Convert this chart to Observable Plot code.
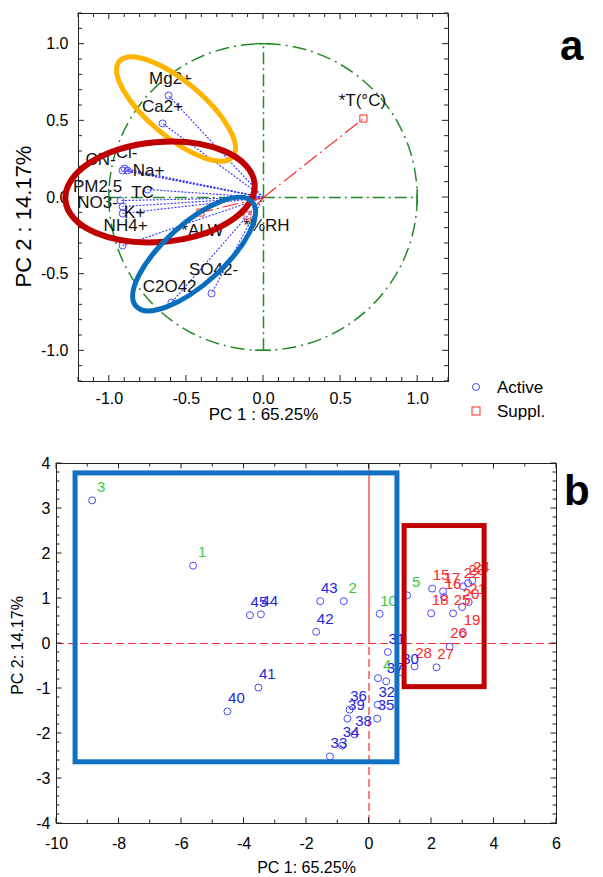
<!DOCTYPE html>
<html><head><meta charset="utf-8">
<script src="https://cdn.jsdelivr.net/npm/d3@7"></script>
<script src="https://cdn.jsdelivr.net/npm/@observablehq/plot@0.6"></script>
<style>
body{margin:0;background:#fff;}
#wrap{position:relative;width:603px;height:877px;font-family:"Liberation Sans",Arial,sans-serif;}
#wrap svg.plot{display:block;}
#overlay{position:absolute;left:0;top:0;pointer-events:none;}
</style></head><body><div id="wrap"></div>
<script>
// ---------- Panel a : variable loadings ----------
const loadName = ["Mg2+","Ca2+","Cl-","CN-","Na+","TC","PM2.5","NO3-","K+","NH4+","SO42-","C2O42-"];
const loadPC1  = [-0.616,-0.655,-0.901,-0.914,-0.882,-0.752,-0.927,-0.914,-0.914,-0.914,-0.337,-0.597];
const loadPC2  = [ 0.665, 0.483, 0.189, 0.176, 0.176, 0.052,-0.020,-0.059,-0.104,-0.313,-0.626,-0.685];
const suppName = ["*T(°C)","*ALW","*%RH"];
const suppPC1  = [0.648,-0.409,-0.104];
const suppPC2  = [0.515,-0.098,-0.117];
const ticksA   = [-1.0,-0.5,0.0,0.5,1.0];
const axisA    = {x:"PC 1 : 65.25%", y:"PC 2 : 14.17%"};
// grouping ellipses (centre, semi-axes in PC units, tilt in degrees)
const ellipseName = ["crustal","secondary","oxalate"];
const ellipseCX = [-0.564,-0.668,-0.447];
const ellipseCY = [ 0.574, 0.033,-0.372];
const ellipseA  = [ 0.480, 0.616, 0.506];
const ellipseB  = [ 0.180, 0.326, 0.195];
const ellipseAngle = [40,-5,-42];

// ---------- Panel b : sample scores ----------
const sampleId  = ["1","2","3","4","5","10","15","16","17","18","19","20","21","22","23","24","25","26","27","28",
                   "30","31","32","33","34","35","36","37","38","39","40","41","42","43","44","45"];
const samplePC1 = [-5.63,-0.81,-8.86,0.29,1.22,0.34,2.02,2.40,2.37,1.99,3.01,2.98,3.19,3.01,3.17,3.31,2.69,2.58,2.16,1.46,
                   1.04,0.60,0.28,-1.25,-0.86,0.26,-0.62,0.55,-0.46,-0.69,-4.53,-3.54,-1.69,-1.56,-3.46,-3.81];
const samplePC2 = [1.73,0.94,3.18,-0.77,1.07,0.66,1.22,1.03,1.16,0.67,0.23,0.81,0.92,1.27,1.34,1.40,0.67,-0.07,-0.53,-0.51,
                   -0.64,-0.19,-1.36,-2.51,-2.27,-1.67,-1.47,-0.84,-2.02,-1.67,-1.51,-0.98,0.26,0.94,0.65,0.63];
const sampleGroup = ["g1","g1","g1","g1","g1","g1","g2","g2","g2","g2","g2","g2","g2","g2","g2","g2","g2","g2","g2","g2",
                   "g3","g3","g3","g3","g3","g3","g3","g3","g3","g3","g3","g3","g3","g3","g3","g3"];
const ticksBX = [-10,-8,-6,-4,-2,0,2,4,6];
const ticksBY = [-4,-3,-2,-1,0,1,2,3,4];
const axisB   = {x:"PC 1: 65.25%", y:"PC 2: 14.17%"};
const boxName = ["blue","red"];
const boxX1 = [-9.39, 1.14];
const boxX2 = [ 0.91, 3.70];
const boxY1 = [ 3.78, 2.61];
const boxY2 = [-2.64,-0.97];

// ---------- styles ----------
const FONT = "Liberation Sans, Arial, sans-serif";
const GREEN = "#23892a", BLUE_LINE = "#3535ff", BLUE_PT = "#4a4aff", RED = "#ff2a2a";
const ellipseColor = {crustal:"#FFB400", secondary:"#C00000", oxalate:"#0A6EBD"};
const boxColor = {blue:"#1170C4", red:"#C00000"};
const labelNudge = {"Mg2+":[2,-17],"Ca2+":[0,-17],"Cl-":[2,-16],"CN-":[-22,-11],"Na+":[21,0],"TC":[-5,3],
  "PM2.5":[-23,-14],"NO3-":[-25,-4],"K+":[12,-1],"NH4+":[3,-20],"SO42-":[2,-24],"C2O42-":[1,-16],
  "*T(°C)":[-1,-18],"*ALW":[2,18],"*%RH":[19,10]};

const loadings = loadName.map((n,i)=>({name:n,x:loadPC1[i],y:loadPC2[i]}));
const supp = suppName.map((n,i)=>({name:n,x:suppPC1[i],y:suppPC2[i]}));
const samples = sampleId.map((n,i)=>({id:n,x:samplePC1[i],y:samplePC2[i],g:sampleGroup[i]}));
const boxes = boxName.map((n,i)=>({name:n,x1:boxX1[i],x2:boxX2[i],y1:boxY1[i],y2:boxY2[i]}));
const fmt1 = d => d.toFixed(1);

function inwardTicks(svg, xs, ys, isMajorX, isMajorY, minLen, majLen){
  const sx = svg.scale("x"), sy = svg.scale("y");
  const [xl,xr] = sx.range, [yb,yt] = sy.range;
  const g = d3.select(svg).append("g").attr("stroke","#222").attr("stroke-width",1);
  xs.forEach(v=>{
    const p = sx.apply(v), L = isMajorX(v)?majLen:minLen;
    g.append("line").attr("x1",p).attr("x2",p).attr("y1",yb).attr("y2",yb-L);
    g.append("line").attr("x1",p).attr("x2",p).attr("y1",yt).attr("y2",yt+L);
  });
  ys.forEach(v=>{
    const p = sy.apply(v), L = isMajorY(v)?majLen:minLen;
    g.append("line").attr("y1",p).attr("y2",p).attr("x1",xl).attr("x2",xl+L);
    g.append("line").attr("y1",p).attr("y2",p).attr("x1",xr).attr("x2",xr-L);
  });
}
const near = (v,step)=>Math.abs(v/step-Math.round(v/step))<1e-6;

// ---------- build panel a ----------
const A = Plot.plot({
  width:603, height:430, marginLeft:78, marginRight:155, marginTop:13, marginBottom:49,
  x:{domain:[-1.2,1.2]}, y:{domain:[-1.2,1.2]},
  style:{fontFamily:FONT, fontSize:"16px", color:"#000", background:"transparent", overflow:"visible"},
  marks:[
    Plot.ruleY([0],{x1:()=>-1,x2:()=>1,stroke:GREEN,strokeWidth:1.5,strokeDasharray:"12,4,2,4"}),
    Plot.ruleX([0],{y1:()=>-1,y2:()=>1,stroke:GREEN,strokeWidth:1.5,strokeDasharray:"12,4,2,4"}),
    Plot.link(loadings,{x1:()=>0,y1:()=>0,x2:"x",y2:"y",stroke:BLUE_LINE,strokeWidth:1.1,strokeDasharray:"2,1.5"}),
    Plot.link(supp,{x1:()=>0,y1:()=>0,x2:"x",y2:"y",stroke:RED,strokeWidth:1.2,strokeDasharray:"16,4,2,4"}),
    Plot.dot(loadings,{x:"x",y:"y",r:3.5,stroke:BLUE_PT,fill:"none",strokeWidth:1}),
    Plot.dot(supp,{x:"x",y:"y",symbol:"square",r:4,stroke:RED,fill:"none",strokeWidth:1}),
    ...loadings.concat(supp).map(d=>Plot.text([d],{x:"x",y:"y",text:"name",dx:labelNudge[d.name][0],dy:labelNudge[d.name][1],
        fontSize:17,fill:"#111",textAnchor:"middle"})),
    Plot.frame({stroke:"#222"}),
    Plot.axisX({ticks:ticksA,tickFormat:fmt1,tickSize:0,tickPadding:11,label:null,fontSize:16}),
    Plot.axisY({ticks:ticksA,tickFormat:fmt1,tickSize:0,tickPadding:10,label:null,fontSize:16}),
    Plot.text([axisA.x],{x:()=>0,frameAnchor:"bottom",lineAnchor:"middle",textAnchor:"middle",dy:33,fontSize:17,text:d=>d}),
    Plot.text([axisA.y],{frameAnchor:"left",lineAnchor:"middle",textAnchor:"middle",dx:-55,dy:19,rotate:-90,fontSize:22,text:d=>d})
  ]
});
A.classList.add("plot");
{
  const sx=A.scale("x"), sy=A.scale("y");
  const ux = sx.apply(1)-sx.apply(0), uy = sy.apply(0)-sy.apply(1);
  const cx=sx.apply(0), cy=sy.apply(0);
  const svg=d3.select(A);
  const under = svg.insert("g","g");
  under.append("ellipse").attr("cx",cx).attr("cy",cy).attr("rx",ux).attr("ry",uy)
    .attr("fill","none").attr("stroke",GREEN).attr("stroke-width",1.5).attr("stroke-dasharray","14,5,2,5");
  const caps = svg.append("g").attr("stroke",GREEN).attr("stroke-width",1.5);
  [-1,1].forEach(v=>{
    caps.append("line").attr("x1",sx.apply(v)).attr("x2",sx.apply(v)).attr("y1",cy-8).attr("y2",cy+8);
    caps.append("line").attr("y1",sy.apply(v)).attr("y2",sy.apply(v)).attr("x1",cx-8).attr("x2",cx+8);
  });
  inwardTicks(A, d3.range(-12,13).map(i=>i/10), d3.range(-12,13).map(i=>i/10), v=>near(v,0.5), v=>near(v,0.5), 4, 6);
  const eg = svg.append("g").attr("fill","none");
  ellipseName.forEach((n,i)=>{
    eg.append("ellipse").attr("cx",sx.apply(ellipseCX[i])).attr("cy",sy.apply(ellipseCY[i]))
      .attr("rx",ellipseA[i]*ux).attr("ry",ellipseB[i]*uy)
      .attr("transform",`rotate(${ellipseAngle[i]} ${sx.apply(ellipseCX[i])} ${sy.apply(ellipseCY[i])})`)
      .attr("stroke",ellipseColor[n]).attr("stroke-width",n==="secondary"?6:5);
  });
}

// ---------- build panel b ----------
const B = Plot.plot({
  width:603, height:447, marginLeft:56, marginRight:47, marginTop:33, marginBottom:54,
  x:{domain:[-10,6]}, y:{domain:[-4,4]},
  color:{domain:["g1","g2","g3"], range:["#3cc83c","#ff2a2a","#2424e0"]},
  style:{fontFamily:FONT, fontSize:"16px", color:"#000", background:"transparent", overflow:"visible"},
  marks:[
    Plot.ruleY([0],{stroke:RED,strokeWidth:1.2,strokeDasharray:"8,4"}),
    Plot.ruleX([0],{y1:()=>0,y2:()=>4,stroke:RED,strokeWidth:1.2}),
    Plot.ruleX([0],{y1:()=>-4,y2:()=>0,stroke:RED,strokeWidth:1.2,strokeDasharray:"8,4"}),
    Plot.dot(samples,{x:"x",y:"y",r:3.5,stroke:BLUE_PT,fill:"none",strokeWidth:1}),
    Plot.text(samples,{x:"x",y:"y",text:"id",fill:"g",dx:9,dy:-13,fontSize:15,textAnchor:"middle"}),
    ...boxes.map(b=>Plot.rect([b],{x1:"x1",x2:"x2",y1:"y1",y2:"y2",fill:"none",stroke:boxColor[b.name],strokeWidth:5})),
    Plot.frame({stroke:"#222"}),
    Plot.axisX({ticks:ticksBX,tickFormat:d=>String(d),tickSize:0,tickPadding:14,label:null,fontSize:16}),
    Plot.axisY({ticks:ticksBY,tickFormat:d=>String(d),tickSize:0,tickPadding:6,label:null,fontSize:16}),
    Plot.text([axisB.x],{frameAnchor:"bottom",lineAnchor:"middle",textAnchor:"middle",dy:44,fontSize:16,text:d=>d}),
    Plot.text([axisB.y],{frameAnchor:"left",lineAnchor:"middle",textAnchor:"middle",dx:-39,dy:2,rotate:-90,fontSize:16,text:d=>d})
  ]
});
B.classList.add("plot");
inwardTicks(B, d3.range(-10,7), d3.range(-20,21).map(i=>i/5), v=>near(v,2), v=>near(v,1), 3.5, 5.5);

const wrap=document.getElementById("wrap");
wrap.appendChild(A); wrap.appendChild(B);

// ---------- legend and panel letters ----------
const ov = d3.select(wrap).append("svg").attr("id","overlay").attr("width",603).attr("height",877)
  .style("font-family",FONT);
ov.append("circle").attr("cx",476).attr("cy",387).attr("r",3.5).attr("fill","none").attr("stroke",BLUE_PT);
ov.append("rect").attr("x",472).attr("y",407).attr("width",8).attr("height",8).attr("fill","none").attr("stroke",RED);
ov.append("text").attr("x",497).attr("y",393).attr("font-size",17).text("Active");
ov.append("text").attr("x",497).attr("y",417).attr("font-size",17).text("Suppl.");
ov.append("text").attr("x",560).attr("y",60).attr("font-size",42).attr("font-weight","bold").text("a");
ov.append("text").attr("x",564).attr("y",505).attr("font-size",42).attr("font-weight","bold").text("b");
</script></body></html>
